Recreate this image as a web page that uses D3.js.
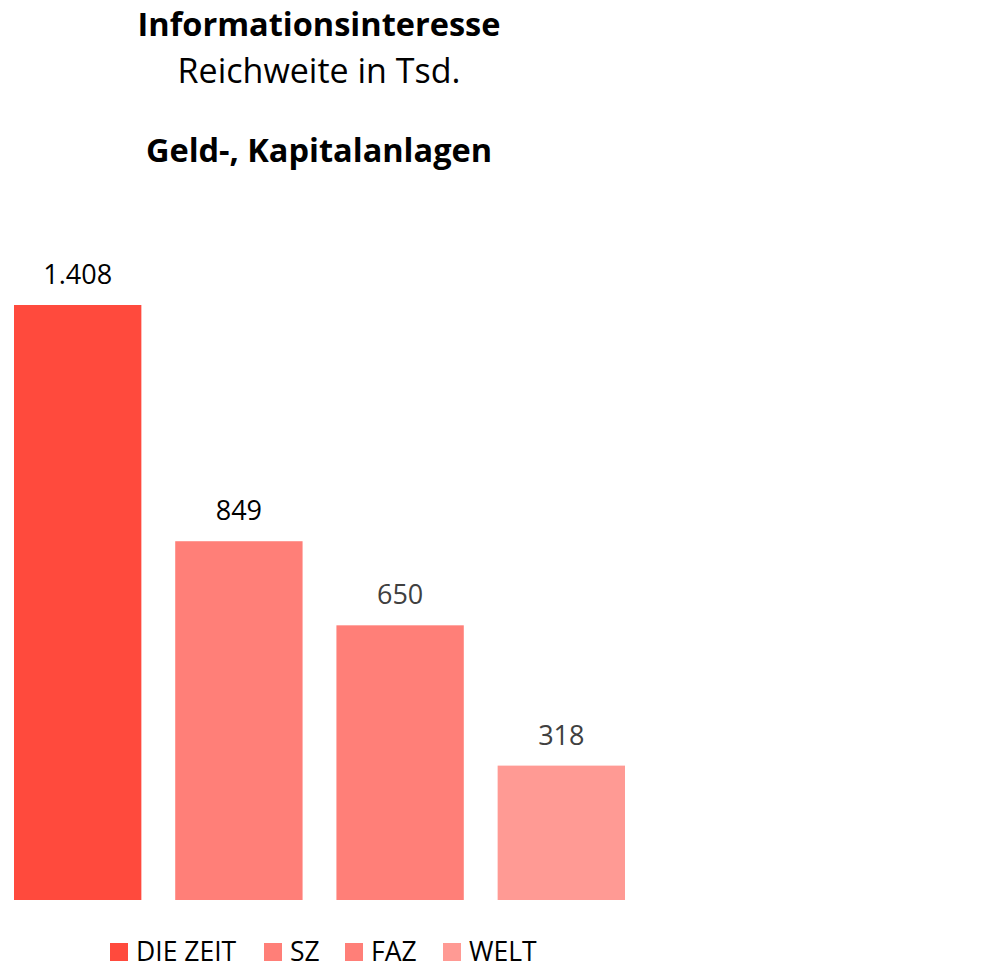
<!DOCTYPE html>
<html>
<head>
<meta charset="utf-8">
<script src="https://cdn.jsdelivr.net/npm/d3@7"></script>
<style>
  body { margin: 0; background: #fff; }
  svg { font-family: "Open Sans", "Noto Sans", sans-serif; }
  .title { font-weight: bold; fill: #000; }
  .label { font-size: 27px; }
  .legend text { font-size: 26.5px; fill: #000; }
</style>
</head>
<body>
<svg id="chart"></svg>
<script>
var papers = ["DIE ZEIT", "SZ", "FAZ", "WELT"];
var reach = [1408, 849, 650, 318];
var barColors = ["#ff4a3d", "#ff7f78", "#ff7f78", "#ff9a94"];
var labelColors = ["#000", "#000", "#404040", "#404040"];
var titleLines = ["Informationsinteresse", "Reichweite in Tsd.", "Geld-, Kapitalanlagen"];

var width = 989, height = 969;
var svg = d3.select("#chart").attr("width", width).attr("height", height);

var x = d3.scaleBand()
  .domain(papers)
  .range([14, 625])
  .paddingInner(0.21)
  .paddingOuter(0);

var y = d3.scaleLinear()
  .domain([0, 1408])
  .range([900, 305]);

// titles
svg.append("text").attr("class", "title")
  .attr("x", 319).attr("y", 36)
  .attr("text-anchor", "middle")
  .style("font-size", "32.5px")
  .text(titleLines[0]);
svg.append("text")
  .attr("x", 319).attr("y", 83)
  .attr("text-anchor", "middle")
  .style("font-size", "34px")
  .text(titleLines[1]);
svg.append("text").attr("class", "title")
  .attr("x", 319).attr("y", 162)
  .attr("text-anchor", "middle")
  .style("font-size", "32.5px")
  .text(titleLines[2]);

var fmt = d3.formatLocale({decimal: ",", thousands: ".", grouping: [3], currency: ["", "€"]}).format(",d");

svg.selectAll("rect.bar")
  .data(papers)
  .enter().append("rect")
  .attr("class", "bar")
  .attr("x", function(d) { return x(d); })
  .attr("width", x.bandwidth())
  .attr("y", function(d, i) { return y(reach[i]); })
  .attr("height", function(d, i) { return y(0) - y(reach[i]); })
  .attr("fill", function(d, i) { return barColors[i]; });

svg.selectAll("text.label")
  .data(papers)
  .enter().append("text")
  .attr("class", "label")
  .attr("x", function(d) { return x(d) + x.bandwidth() / 2; })
  .attr("y", function(d, i) { return y(reach[i]) - 21; })
  .attr("text-anchor", "middle")
  .attr("fill", function(d, i) { return labelColors[i]; })
  .text(function(d, i) { return fmt(reach[i]); });

// legend
var legendX = [110, 264, 345, 443];
var legend = svg.append("g").attr("class", "legend");
var item = legend.selectAll("g")
  .data(papers)
  .enter().append("g")
  .attr("transform", function(d, i) { return "translate(" + legendX[i] + ",943)"; });
item.append("rect")
  .attr("width", 18).attr("height", 18)
  .attr("fill", function(d, i) { return barColors[i]; });
item.append("text")
  .attr("x", 26).attr("y", 18)
  .text(function(d) { return d; });
</script>
</body>
</html>
